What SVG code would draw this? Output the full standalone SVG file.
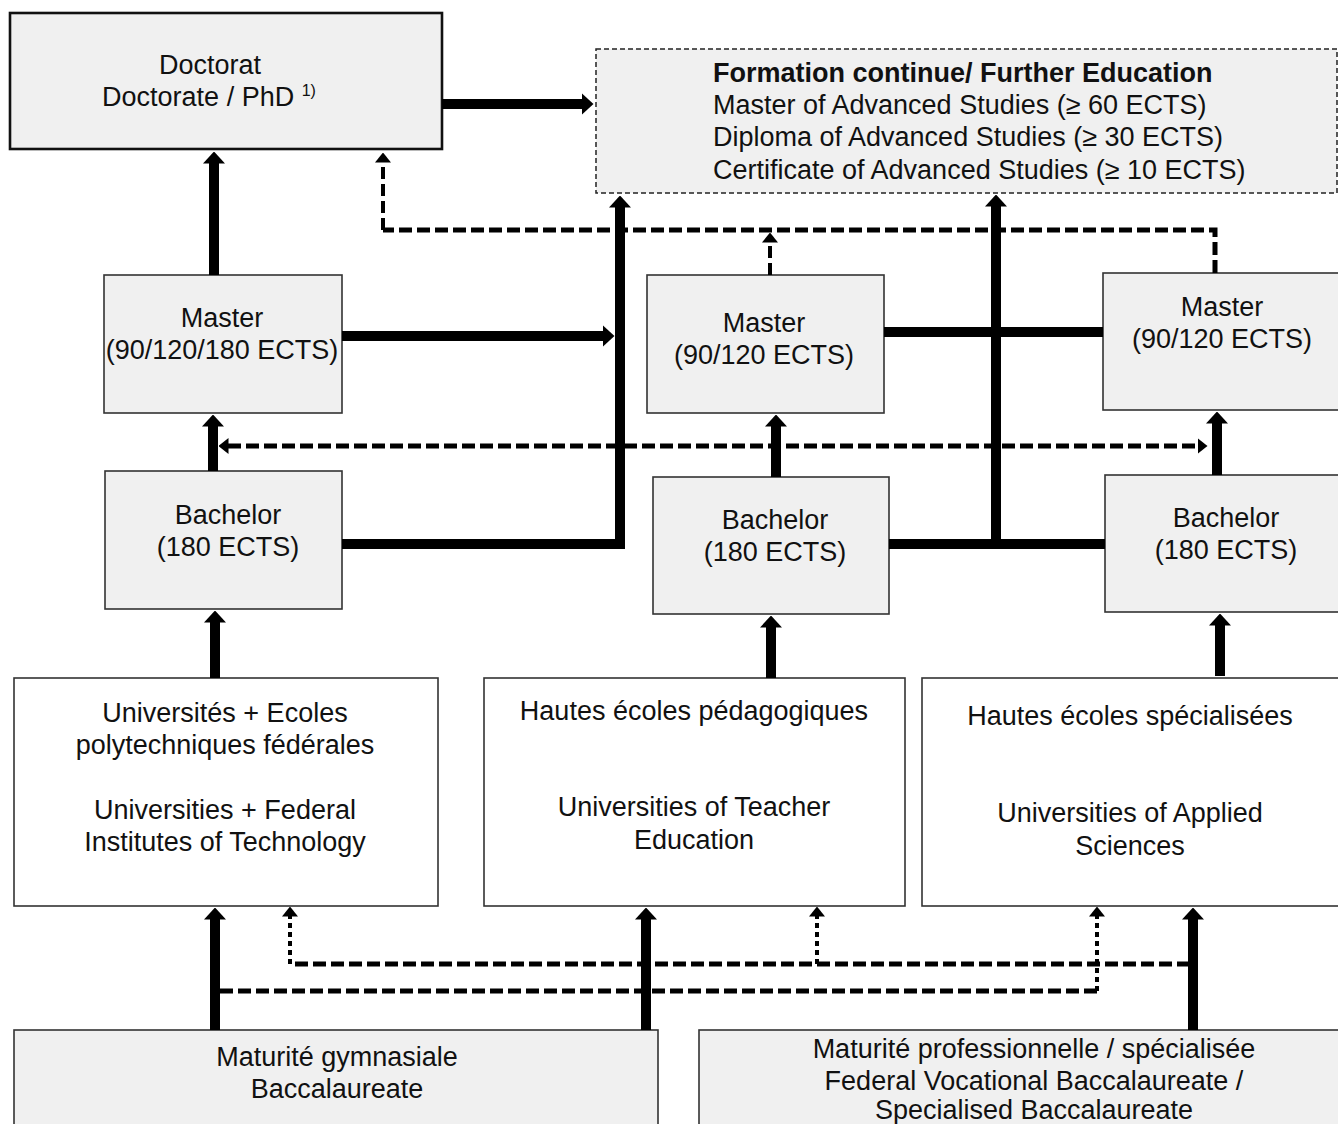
<svg xmlns="http://www.w3.org/2000/svg" width="1338" height="1124" viewBox="0 0 1338 1124">
<style>
text{font-family:"Liberation Sans",Arial,sans-serif;font-size:27px;fill:#111;text-anchor:middle}
.box{fill:#f0f0f0;stroke:#333;stroke-width:1.6}
.wbox{fill:#fff;stroke:#333;stroke-width:1.6}
.thick{fill:none;stroke:#000;stroke-width:10;stroke-linejoin:miter}
.dash{fill:none;stroke:#000;stroke-width:5;stroke-dasharray:13,5}
.dot{fill:none;stroke:#000;stroke-width:4;stroke-dasharray:5,4}
.vdash{fill:none;stroke:#000;stroke-width:4;stroke-dasharray:12,5}
</style>
<defs>
<marker id="ah" viewBox="0 0 12 22" markerWidth="12" markerHeight="22" refX="0.5" refY="11" orient="auto" markerUnits="userSpaceOnUse"><path d="M0,0 L12,11 L0,22 z" fill="#000"/></marker>
<marker id="dh" viewBox="0 0 10 16" markerWidth="10" markerHeight="16" refX="0.5" refY="8" orient="auto" markerUnits="userSpaceOnUse"><path d="M0,0 L10,8 L0,16 z" fill="#000"/></marker>
<marker id="dhs" viewBox="0 0 10 16" markerWidth="10" markerHeight="16" refX="9.5" refY="8" orient="auto" markerUnits="userSpaceOnUse"><path d="M10,0 L0,8 L10,16 z" fill="#000"/></marker>
</defs>

<g id="doctorat">
<rect x="10" y="13" width="432" height="136" fill="#f0f0f0" stroke="#111" stroke-width="2.6"/>
<text x="210" y="74">Doctorat</text>
<text x="209" y="106">Doctorate / PhD <tspan font-size="16" dy="-10">1)</tspan></text>
</g>
<g id="further-education">
<rect x="596" y="49" width="741" height="144" fill="#f0f0f0" stroke="#222" stroke-width="1.5" stroke-dasharray="5,3"/>
<text x="713" y="82" style="text-anchor:start;font-weight:bold">Formation continue/ Further Education</text>
<text x="713" y="114" style="text-anchor:start">Master of Advanced Studies (≥ 60 ECTS)</text>
<text x="713" y="146" style="text-anchor:start">Diploma of Advanced Studies (≥ 30 ECTS)</text>
<text x="713" y="179" style="text-anchor:start">Certificate of Advanced Studies (≥ 10 ECTS)</text>
</g>
<g id="master-uni">
<rect class="box" x="104" y="275" width="238" height="138"/>
<text x="222" y="327">Master</text>
<text x="222" y="359">(90/120/180 ECTS)</text>
</g>
<g id="bachelor-uni">
<rect class="box" x="105" y="471" width="237" height="138"/>
<text x="228" y="524">Bachelor</text>
<text x="228" y="556">(180 ECTS)</text>
</g>
<g id="master-hep">
<rect class="box" x="647" y="275" width="237" height="138"/>
<text x="764" y="332">Master</text>
<text x="764" y="364">(90/120 ECTS)</text>
</g>
<g id="bachelor-hep">
<rect class="box" x="653" y="477" width="236" height="137"/>
<text x="775" y="529">Bachelor</text>
<text x="775" y="561">(180 ECTS)</text>
</g>
<g id="master-hes">
<rect class="box" x="1103" y="273" width="245" height="137"/>
<text x="1222" y="316">Master</text>
<text x="1222" y="348">(90/120 ECTS)</text>
</g>
<g id="bachelor-hes">
<rect class="box" x="1105" y="475" width="243" height="137"/>
<text x="1226" y="527">Bachelor</text>
<text x="1226" y="559">(180 ECTS)</text>
</g>
<g id="universities">
<rect class="wbox" x="14" y="678" width="424" height="228"/>
<text x="225" y="722">Universités + Ecoles</text>
<text x="225" y="754">polytechniques fédérales</text>
<text x="225" y="819">Universities + Federal</text>
<text x="225" y="851">Institutes of Technology</text>
</g>
<g id="hep">
<rect class="wbox" x="484" y="678" width="421" height="228"/>
<text x="694" y="720">Hautes écoles pédagogiques</text>
<text x="694" y="816">Universities of Teacher</text>
<text x="694" y="849">Education</text>
</g>
<g id="hes">
<rect class="wbox" x="922" y="678" width="426" height="228"/>
<text x="1130" y="725">Hautes écoles spécialisées</text>
<text x="1130" y="822">Universities of Applied</text>
<text x="1130" y="855">Sciences</text>
</g>
<g id="maturite-gymnasiale">
<rect class="box" x="14" y="1030" width="644" height="110"/>
<text x="337" y="1066">Maturité gymnasiale</text>
<text x="337" y="1098">Baccalaureate</text>
</g>
<g id="maturite-pro">
<rect class="box" x="699" y="1030" width="650" height="110"/>
<text x="1034" y="1058">Maturité professionnelle / spécialisée</text>
<text x="1034" y="1090">Federal Vocational Baccalaureate /</text>
<text x="1034" y="1119">Specialised Baccalaureate</text>
</g>

<g id="connectors">
<path class="thick" d="M442,104 H582" stroke-width="12" marker-end="url(#ah)"/>
<path class="thick" d="M214,275 V163" marker-end="url(#ah)"/>
<path class="thick" d="M342,336 H603" marker-end="url(#ah)"/>
<path class="thick" d="M342,544 H620 V207" marker-end="url(#ah)"/>
<path class="thick" d="M213,471 V426" marker-end="url(#ah)"/>
<path class="thick" d="M215,678 V622" marker-end="url(#ah)"/>
<path class="thick" d="M771,678 V627" marker-end="url(#ah)"/>
<path class="thick" d="M1220,676 V625" marker-end="url(#ah)"/>
<path class="thick" d="M776,477 V426" marker-end="url(#ah)"/>
<path class="thick" d="M1217,475 V423" marker-end="url(#ah)"/>
<path class="thick" d="M889,544 H1105"/>
<path class="thick" d="M996,544 V206" marker-end="url(#ah)"/>
<path class="thick" d="M884,332 H1103"/>
<path class="thick" d="M215,1030 V919" marker-end="url(#ah)"/>
<path class="thick" d="M646,1030 V919" marker-end="url(#ah)"/>
<path class="thick" d="M1193,1030 V919" marker-end="url(#ah)"/>
<path class="dash" d="M1215,273 V230 H383"/>
<path class="vdash" d="M383,230 V162" marker-end="url(#dh)"/>
<path class="vdash" d="M770,275 V242" marker-end="url(#dh)"/>
<path class="dash" d="M228,446 H1198" stroke-width="4.5" marker-start="url(#dhs)" marker-end="url(#dh)"/>
<path class="dash" d="M1190,964 H290"/>
<path class="dot" d="M290,964 V916" marker-end="url(#dh)"/>
<path class="dot" d="M817,964 V916" marker-end="url(#dh)"/>
<path class="dash" d="M220,991 H1097"/>
<path class="dot" d="M1097,991 V916" marker-end="url(#dh)"/>
</g>
</svg>
